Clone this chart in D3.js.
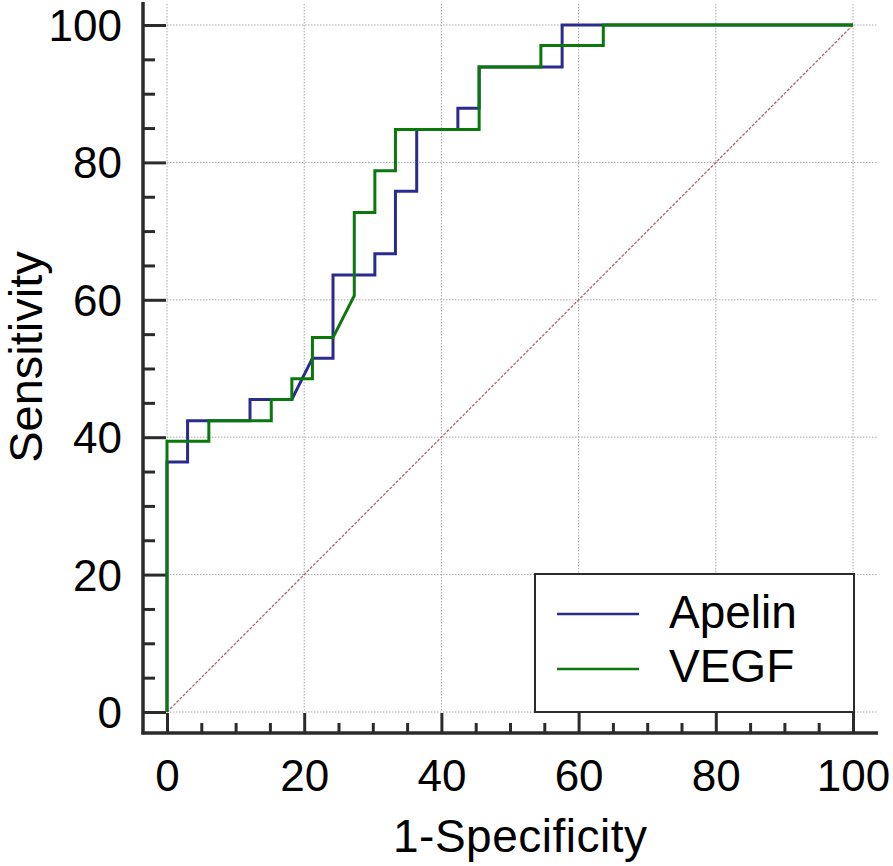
<!DOCTYPE html>
<html><head><meta charset="utf-8">
<script src="https://cdn.jsdelivr.net/npm/d3@7/dist/d3.min.js"></script>
<style>body{margin:0;background:#fff}svg{display:block}</style>
</head><body>
<svg id="c" width="893" height="866"></svg>
<script>
const seriesNames = ["Apelin", "VEGF"];
const seriesColors = ["#2b2b8e", "#0a780a"];
const apelinX = [0, 0, 3.0, 3.0, 12.1, 12.1, 18.2, 21.2, 24.2, 24.2, 30.3, 30.3, 33.3, 33.3, 36.4, 36.4, 42.4, 42.4, 45.5, 45.5, 57.6, 57.6, 100];
const apelinY = [0, 36.4, 36.4, 42.4, 42.4, 45.5, 45.5, 51.5, 51.5, 63.6, 63.6, 66.7, 66.7, 75.8, 75.8, 84.8, 84.8, 87.9, 87.9, 93.9, 93.9, 100, 100];
const vegfX = [0, 0, 6.1, 6.1, 15.2, 15.2, 18.2, 18.2, 21.2, 21.2, 24.2, 27.3, 27.3, 30.3, 30.3, 33.3, 33.3, 45.5, 45.5, 54.5, 54.5, 63.6, 63.6, 100];
const vegfY = [0, 39.4, 39.4, 42.4, 42.4, 45.5, 45.5, 48.5, 48.5, 54.5, 54.5, 60.6, 72.7, 72.7, 78.8, 78.8, 84.8, 84.8, 93.9, 93.9, 97.0, 97.0, 100, 100];
const majorTicks = [0, 20, 40, 60, 80, 100];
const minorTicks = [5, 10, 15, 25, 30, 35, 45, 50, 55, 65, 70, 75, 85, 90, 95];
const xTitle = "1-Specificity";
const yTitle = "Sensitivity";

const svg = d3.select("#c");
const font = "'Liberation Sans', Arial, sans-serif";
const x = d3.scaleLinear().domain([0, 100]).range([167, 853]);
const y = d3.scaleLinear().domain([0, 100]).range([712, 25]);
const axisX = 143, axisY = 733;

// grid
const grid = svg.append("g").attr("stroke", "#a8a8a8").attr("stroke-width", 1).attr("stroke-dasharray", "1.5,1.5");
majorTicks.forEach(t => {
  grid.append("line").attr("x1", x(t)).attr("x2", x(t)).attr("y1", 4).attr("y2", y(0));
  grid.append("line").attr("x1", x(0)).attr("x2", 878).attr("y1", y(t)).attr("y2", y(t));
});

// diagonal
svg.append("line").attr("x1", x(0)).attr("y1", y(0)).attr("x2", x(100)).attr("y2", y(100))
  .attr("stroke", "#a86a6a").attr("stroke-width", 1.3).attr("stroke-dasharray", "3,1.5");

// axes
function styleAxis(g) {
  g.select(".domain").remove();
  g.selectAll(".tick line").attr("stroke", "#2b2b2b").attr("stroke-width", 3);
  g.selectAll("text").attr("font-family", font).attr("font-size", 44).attr("fill", "#000");
}
const yAx = svg.append("g").attr("transform", `translate(${axisX},0)`)
  .call(d3.axisLeft(y).tickValues(majorTicks).tickSize(-23).tickPadding(21).tickFormat(d3.format("d")));
styleAxis(yAx);
yAx.selectAll("text").attr("dy", "0.35em");
const yMin = svg.append("g").attr("transform", `translate(${axisX},0)`)
  .call(d3.axisLeft(y).tickValues(minorTicks).tickSize(-12).tickFormat(""));
styleAxis(yMin);
const xAx = svg.append("g").attr("transform", `translate(0,${axisY})`)
  .call(d3.axisBottom(x).tickValues(majorTicks).tickSize(-20).tickPadding(27).tickFormat(d3.format("d")));
styleAxis(xAx);
const xMin = svg.append("g").attr("transform", `translate(0,${axisY})`)
  .call(d3.axisBottom(x).tickValues(minorTicks).tickSize(-10).tickFormat(""));
styleAxis(xMin);
svg.append("line").attr("x1", axisX).attr("x2", axisX).attr("y1", 2).attr("y2", axisY + 1.5)
  .attr("stroke", "#2b2b2b").attr("stroke-width", 3.5);
svg.append("line").attr("x1", axisX - 1.5).attr("x2", 878).attr("y1", axisY).attr("y2", axisY)
  .attr("stroke", "#2b2b2b").attr("stroke-width", 3.5);

// titles
svg.append("text").attr("x", 520).attr("y", 852).attr("text-anchor", "middle")
  .attr("font-family", font).attr("font-size", 46).attr("textLength", 254).text(xTitle);
svg.append("text").attr("transform", `translate(42,357) rotate(-90)`).attr("text-anchor", "middle")
  .attr("font-family", font).attr("font-size", 47).text(yTitle);

// curves
const line = d3.line().x(d => x(d[0])).y(d => y(d[1]));
const series = [d3.zip(apelinX, apelinY), d3.zip(vegfX, vegfY)];
series.forEach((pts, i) => {
  svg.append("path").datum(pts).attr("d", line).attr("fill", "none")
    .attr("stroke", seriesColors[i]).attr("stroke-width", 3).attr("stroke-linejoin", "miter");
});

// legend
const lg = svg.append("g");
lg.append("rect").attr("x", 535).attr("y", 574).attr("width", 319).attr("height", 138)
  .attr("fill", "#fff").attr("stroke", "#2b2b2b").attr("stroke-width", 2);
seriesNames.forEach((n, i) => {
  const yy = 614 + i * 55;
  lg.append("line").attr("x1", 557).attr("x2", 639).attr("y1", yy).attr("y2", yy)
    .attr("stroke", seriesColors[i]).attr("stroke-width", 2.5);
  lg.append("text").attr("x", 669).attr("y", 628 + i * 54).attr("font-family", font).attr("font-size", 46)
    .text(n);
});
</script>
</body></html>
